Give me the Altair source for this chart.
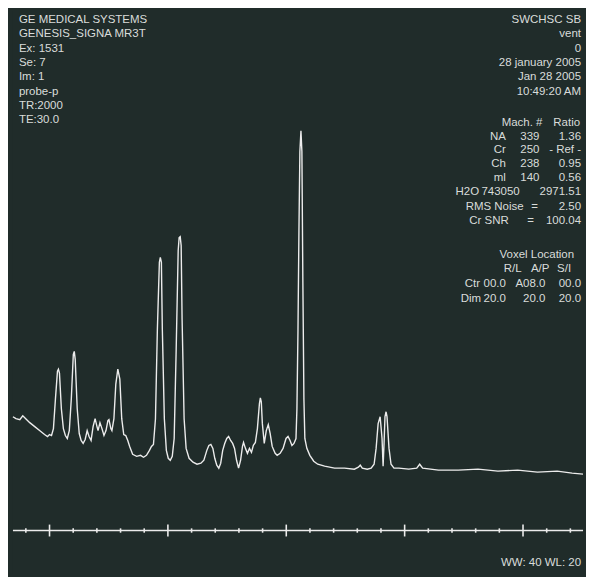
import altair as alt
import pandas as pd

# ---- spectrum (chemical shift in ppm, signal in arbitrary units) ----
ppm = [4.309, 4.284, 4.251, 4.226, 4.201, 4.167, 4.125, 4.084, 4.042, 4.017,
       4.000, 3.983, 3.967, 3.950, 3.933, 3.925, 3.916, 3.900, 3.883, 3.866,
       3.850, 3.833, 3.816, 3.799, 3.791, 3.783, 3.766, 3.749, 3.733, 3.716,
       3.699, 3.682, 3.666, 3.649, 3.632, 3.615, 3.599, 3.590, 3.574, 3.557,
       3.540, 3.523, 3.507, 3.498, 3.482, 3.473, 3.456, 3.440, 3.423, 3.406,
       3.390, 3.373, 3.356, 3.339, 3.323, 3.298, 3.264, 3.231, 3.206, 3.181,
       3.156, 3.139, 3.122, 3.105, 3.089, 3.072, 3.064, 3.055, 3.047, 3.030,
       3.013, 2.997, 2.980, 2.963, 2.947, 2.930, 2.913, 2.905, 2.896, 2.888,
       2.880, 2.863, 2.846, 2.821, 2.788, 2.754, 2.721, 2.696, 2.671, 2.654,
       2.637, 2.620, 2.604, 2.587, 2.570, 2.554, 2.537, 2.520, 2.503, 2.487,
       2.470, 2.453, 2.437, 2.420, 2.403, 2.386, 2.370, 2.361, 2.345, 2.328,
       2.311, 2.294, 2.278, 2.261, 2.244, 2.227, 2.219, 2.211, 2.202, 2.186,
       2.169, 2.152, 2.136, 2.119, 2.094, 2.077, 2.052, 2.027, 2.002, 1.985,
       1.968, 1.952, 1.935, 1.918, 1.910, 1.901, 1.893, 1.885, 1.876, 1.868,
       1.860, 1.851, 1.843, 1.826, 1.801, 1.768, 1.734, 1.676, 1.592, 1.508,
       1.425, 1.391, 1.375, 1.358, 1.316, 1.283, 1.258, 1.241, 1.224, 1.207,
       1.191, 1.182, 1.174, 1.166, 1.157, 1.149, 1.132, 1.115, 1.090, 1.049,
       0.965, 0.898, 0.873, 0.848, 0.714, 0.547, 0.380, 0.212, 0.045, -0.122,
       -0.289, -0.415, -0.507]
signal = [57, 55, 54, 58, 55, 51, 47, 43, 39, 37,
          39, 38, 45, 75, 103, 105, 101, 65, 45, 38,
          35, 43, 75, 120, 123, 115, 65, 40, 33, 30,
          34, 43, 37, 33, 47, 55, 47, 43, 51, 45,
          38, 43, 53, 54, 45, 43, 55, 90, 105, 95,
          55, 39, 38, 33, 27, 19, 17, 18, 16, 18,
          23, 27, 29, 55, 145, 213, 218, 213, 145, 55,
          23, 15, 13, 17, 35, 125, 225, 238, 239, 230,
          155, 55, 25, 15, 11, 9, 10, 13, 23, 28,
          29, 25, 15, 8, 5, 10, 23, 30, 35, 37,
          33, 30, 25, 13, 5, 13, 27, 31, 25, 20,
          25, 21, 28, 31, 45, 70, 76, 72, 50, 30,
          43, 49, 40, 27, 20, 18, 20, 25, 35, 37,
          33, 28, 30, 35, 65, 145, 245, 325, 346, 325,
          195, 75, 35, 25, 18, 12, 9, 7, 5, 5,
          4, 6, 8, 5, 4, 5, 9, 25, 50, 57,
          35, 7, 30, 57, 62, 57, 25, 9, 5, 5,
          4, 5, 9, 5, 3, 3, 4, 2, 3, 1,
          2, 0, -1]

# ---- frequency axis ticks (ppm) ----
major_ticks = [4, 3, 2, 1, 0]
minor_ticks = [4.2, 3.8, 3.6, 3.4, 3.2, 2.8, 2.6, 2.4, 2.2, 1.8, 1.6, 1.4,
               1.2, 0.8, 0.6, 0.4, 0.2, -0.2, -0.4]
axis_level = -58

# ---- scanner annotations ----
header_left = ["GE MEDICAL SYSTEMS", "GENESIS_SIGNA MR3T", "Ex: 1531", "Se: 7",
               "Im: 1", "probe-p", "TR:2000", "TE:30.0"]
header_right = ["SWCHSC SB", "vent", "0", "28 january 2005", "Jan 28 2005",
                "10:49:20 AM"]
metabolites = ["NA", "Cr", "Ch", "ml"]
mach_counts = ["339", "250", "238", "140"]
ratios = ["1.36", "- Ref -", "0.95", "0.56"]
water = ["H2O", "743050", "2971.51"]
rms_noise = "2.50"
cr_snr = "100.04"
voxel_axes = ["R/L", "A/P", "S/I"]
voxel_ctr = ["00.0", "A08.0", "00.0"]
voxel_dim = ["20.0", "20.0", "20.0"]
window_text = "WW: 40 WL: 20"

BG = "#202c2a"
FG = "#d9dcda"
LINE = "#ececec"
FONT = "Liberation Sans"
FS = 11.6
W, H = 576, 569
X_DOM = [-0.507, 4.309]
Y_DOM = [-102, 467]
DX = -4  # right-hand block shifted to stay inside the window

xs = alt.Scale(domain=X_DOM, reverse=True, nice=False, zero=False)
ys = alt.Scale(domain=Y_DOM, nice=False, zero=False)

spec_df = pd.DataFrame({"ppm": ppm, "signal": signal})
spectrum = alt.Chart(spec_df).mark_line(color=LINE, strokeWidth=1.4).encode(
    x=alt.X("ppm:Q", scale=xs, axis=None),
    y=alt.Y("signal:Q", scale=ys, axis=None),
)

axis_line = alt.Chart(pd.DataFrame({"k": [0]})).mark_rule(
    color=LINE, strokeWidth=1.6
).encode(
    x=alt.value(0), x2=alt.value(W),
    y=alt.Y(datum=axis_level, scale=ys, axis=None),
)

major_df = pd.DataFrame({"ppm": major_ticks})
majors = alt.Chart(major_df).mark_rule(color=LINE, strokeWidth=1.6).encode(
    x=alt.X("ppm:Q", scale=xs, axis=None),
    y=alt.Y(datum=axis_level - 6, scale=ys, axis=None),
    y2=alt.Y2(datum=axis_level + 6),
)
minor_df = pd.DataFrame({"ppm": minor_ticks})
minors = alt.Chart(minor_df).mark_rule(color=LINE, strokeWidth=1.6).encode(
    x=alt.X("ppm:Q", scale=xs, axis=None),
    y=alt.Y(datum=axis_level - 2.2, scale=ys, axis=None),
    y2=alt.Y2(datum=axis_level + 2.2),
)


def label(text, sx, sy, align="right", size=FS):
    """Place a text at screen position (sx, sy) of the reference image."""
    return alt.Chart(pd.DataFrame({"label": [text]})).mark_text(
        align=align, baseline="middle", font=FONT, fontSize=size, color=FG
    ).encode(x=alt.value(sx - 10), y=alt.value(sy - 8), text="label:N")


def rlabel(text, sx, sy, align="right"):
    return label(text, sx + DX, sy, align)


texts = []
left_rows = [17, 31.5, 46, 60.5, 75, 89.5, 104, 118]
for t, yy in zip(header_left, left_rows):
    texts.append(label(t, 16, yy, "left"))
right_rows = [17, 31.5, 46, 60.5, 75, 89.5]
for t, yy in zip(header_right, right_rows):
    texts.append(rlabel(t, 588, yy))

texts.append(rlabel("Mach. #", 549, 121))
texts.append(rlabel("Ratio", 587, 121))
for i, yy in enumerate([135, 149, 163, 177]):
    texts.append(rlabel(metabolites[i], 512, yy))
    texts.append(rlabel(mach_counts[i], 546, yy))
    texts.append(rlabel(ratios[i], 588, yy))
texts.append(rlabel(water[0], 485, 191))
texts.append(rlabel(water[1], 526, 191))
texts.append(rlabel(water[2], 588, 191))
texts.append(rlabel("RMS Noise", 530, 206))
texts.append(rlabel("=", 541, 206, "center"))
texts.append(rlabel(rms_noise, 588, 206))
texts.append(rlabel("Cr SNR", 515, 220))
texts.append(rlabel("=", 537, 220, "center"))
texts.append(rlabel(cr_snr, 588, 220))

texts.append(rlabel("Voxel Location", 581, 255))
for t, xx in zip(voxel_axes, [528, 556, 578]):
    texts.append(rlabel(t, xx, 269))
texts.append(rlabel("Ctr", 486, 284))
for t, xx in zip(voxel_ctr, [512, 552, 588]):
    texts.append(rlabel(t, xx, 284))
texts.append(rlabel("Dim", 487, 299))
for t, xx in zip(voxel_dim, [512, 552, 588]):
    texts.append(rlabel(t, xx, 299))

texts.append(rlabel(window_text, 588, 566))

chart = alt.layer(spectrum, axis_line, majors, minors, *texts).properties(
    width=W, height=H,
    padding={"left": 2, "top": 0, "right": 0, "bottom": 0},
    background=BG,
).configure_view(stroke=None, fill=BG)

chart.save("out.html", embed_options={"renderer": "svg", "actions": False})
